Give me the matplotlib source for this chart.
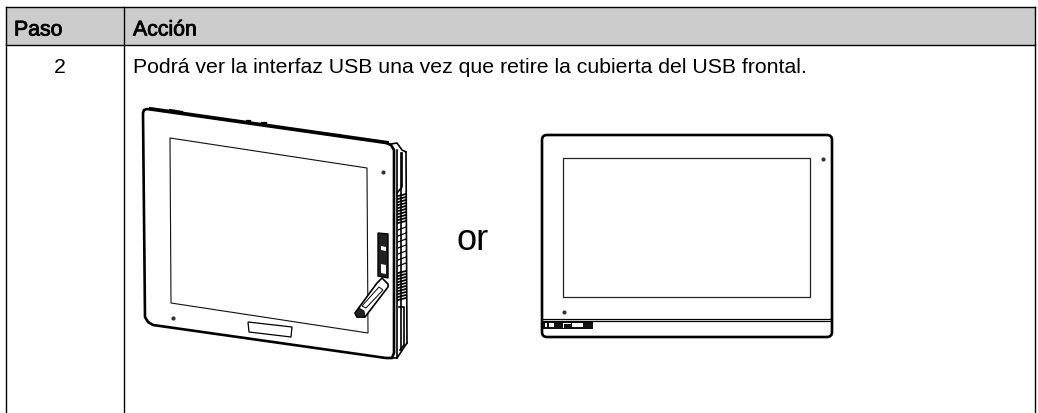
"""Table row from a manual: header, step number and two line drawings of the HMI panels."""
import matplotlib

matplotlib.use("Agg")
import matplotlib.patheffects as pe
import matplotlib.pyplot as plt
from matplotlib.patches import FancyBboxPatch, Polygon

plt.rcParams["font.family"] = ["Liberation Sans", "DejaVu Sans"]

headers = ["Paso", "Acción"]
step = "2"
action = "Podrá ver la interfaz USB una vez que retire la cubierta del USB frontal."
joiner = "or"

# tilted panel, pixel coordinates
tilt_outer = [(147, 109), (386, 143), (391, 145), (394, 150), (394, 353), (392, 358), (386, 358),
              (153, 325), (148, 322), (145, 317), (143, 113), (144, 110)]
tilt_screen = [(170, 138), (367, 168), (368, 333), (171, 303)]
tilt_slot = [(248, 322), (292, 327), (291, 337), (249, 332)]
tilt_dots = [(383, 172), (173, 318)]
tilt_top_edge = [(150, 108), (388, 142)]
tilt_bumps = [[(170, 110), (182, 112)], [(247, 121), (250, 121)], [(262, 123), (266, 123)], [(335, 135), (340, 135)]]
side_lines = [
    [(397, 150), (397, 358)],
    [(401, 153), (401, 350)],
    [(406, 152), (407, 343)],
    [(391, 144), (397, 143), (402, 150), (406, 152)],
    [(394, 358), (397, 358), (407, 343)],
    [(402, 153), (402, 187), (397, 193)],
    [(399, 307), (404, 307), (404, 345), (400, 350)],
]
vent_ys = [195, 198, 201, 204, 207, 210, 213, 216, 219, 222, 272, 275, 278, 281, 284, 287, 290, 293, 296, 299]
port_ys = [228, 234, 240, 246, 252, 258, 264]
cover_plate = [(378, 233), (388, 234), (388, 278), (378, 276)]
cover_arm = [(377, 283), (382, 278), (388, 284), (388, 287), (365, 317), (357, 317), (355, 313)]
cover_tip = [(359, 308), (364, 311), (365, 317), (357, 317), (355, 313)]
cover_holes = [[(381, 246), (386, 247), (386, 251), (381, 250)],
               [(381, 264), (386, 265), (386, 274), (381, 273)]]
cover_slot = [(379, 287), (383, 290), (366, 308), (362, 306)]

# flat panel
flat_outer = (542, 135, 290, 202)
flat_screen = (563, 158, 247, 139)
flat_dots = [(823, 159), (564, 312)]
flat_rules = [319, 320.5]
flat_ports = (543, 322, 50, 7)
flat_port_holes = [(545, 323, 2, 4), (549, 323, 5, 4), (563, 323, 8, 1), (563, 324, 1, 4), (572, 323, 11, 4)]

fig = plt.figure(figsize=(10.38, 4.13), dpi=100)
ax = fig.add_axes([0, 0, 1, 1])
ax.set_xlim(0, 1038)
ax.set_ylim(413, 0)
ax.axis("off")

# table
ax.add_patch(plt.Rectangle((6, 7), 1029, 38, fc="#cccccc", ec="none", zorder=0))
ax.plot([6, 1035], [7, 7], c="k", lw=1.0)
ax.plot([6, 1035], [45, 45], c="k", lw=1.0)
for x in (6, 124, 1035):
    ax.plot([x, x], [7, 413], c="k", lw=1.0)

# the header is regular type thickened, not a real bold
fake_bold = [pe.withStroke(linewidth=0.6, foreground="k")]
ax.text(14, 35.5, headers[0], fontsize=15.3, va="baseline", ha="left", path_effects=fake_bold)
ax.text(133, 35.5, headers[1], fontsize=15.3, va="baseline", ha="left", path_effects=fake_bold)
ax.text(60, 73, step, fontsize=15.3, va="baseline", ha="center")
ax.text(133, 73, action, fontsize=15.3, va="baseline", ha="left")
ax.text(457, 250.5, joiner, fontsize=26, va="baseline", ha="left")


def line(pts, lw=1.0):
    ax.plot([p[0] for p in pts], [p[1] for p in pts], c="k", lw=lw, solid_joinstyle="round")


# tilted panel
ax.add_patch(Polygon(tilt_outer, closed=True, fc="white", ec="k", lw=1.9, joinstyle="round"))
ax.add_patch(Polygon(tilt_screen, closed=True, fc="white", ec="#111111", lw=0.8))
ax.add_patch(Polygon(tilt_slot, closed=True, fc="white", ec="k", lw=0.9))
line(tilt_top_edge, 1.5)
for pts in tilt_bumps:
    line(pts, 1.6)
for pts in side_lines:
    line(pts, 1.2)
for y in vent_ys:
    line([(398, y + 1), (406, y - 1)], 1.3)
for y in port_ys:
    line([(398, y + 2), (406, y - 1)], 0.9)
ax.add_patch(Polygon(cover_arm, closed=True, fc="white", ec="k", lw=1.2))
ax.add_patch(Polygon(cover_slot, closed=True, fc="white", ec="k", lw=0.7))
ax.add_patch(Polygon(cover_tip, closed=True, fc="#222222", ec="k", lw=0.6))
ax.add_patch(Polygon(cover_plate, closed=True, fc="#222222", ec="k", lw=1.0))
for h in cover_holes:
    ax.add_patch(Polygon(h, closed=True, fc="white", ec="none"))
ax.scatter(*zip(*tilt_dots), s=9, c="#333333", linewidths=0)

# flat panel
x0, y0, w, h = flat_outer
ax.add_patch(FancyBboxPatch((x0 + 4, y0 + 4), w - 8, h - 8, boxstyle="round,pad=4,rounding_size=5",
                            fc="white", ec="k", lw=1.9))
ax.add_patch(plt.Rectangle(flat_screen[:2], *flat_screen[2:], fc="white", ec="#222222", lw=0.9))
for y in flat_rules:
    line([(x0, y), (x0 + w, y)], 0.9)
ax.add_patch(plt.Rectangle(flat_ports[:2], *flat_ports[2:], fc="#111111", ec="none"))
for hx, hy, hw, hh in flat_port_holes:
    ax.add_patch(plt.Rectangle((hx, hy), hw, hh, fc="white", ec="none"))
ax.scatter(*zip(*flat_dots), s=9, c="#333333", linewidths=0)

fig.savefig("out.png", dpi=100)
plt.close(fig)
